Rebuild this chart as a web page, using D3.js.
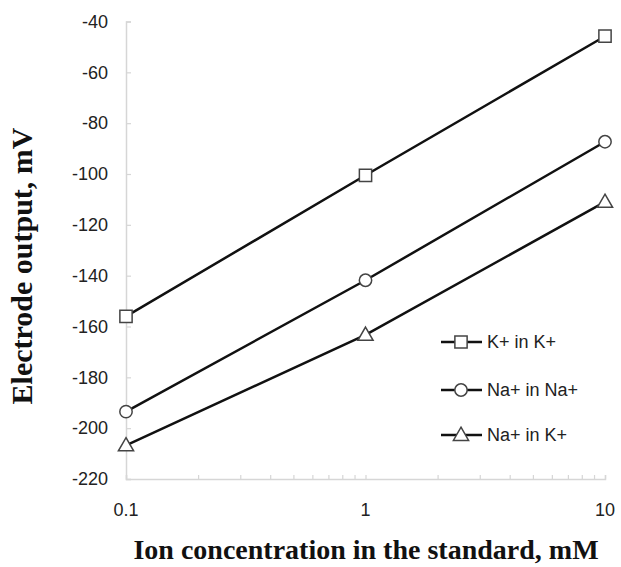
<!DOCTYPE html>
<html>
<head>
<meta charset="utf-8">
<script src="https://cdn.jsdelivr.net/npm/d3@7"></script>
<style>
  body { margin: 0; background: #fff; }
  svg { display: block; }
</style>
</head>
<body>
<svg id="chart" width="621" height="567"></svg>
<script>
// data
const conc = [0.1, 1, 10];
const kInK = [-156, -100.5, -45.8];
const naInNa = [-193.5, -141.8, -87.3];
const naInK = [-206.8, -163.3, -111];
const seriesNames = ["K+ in K+", "Na+ in Na+", "Na+ in K+"];
const seriesSymbols = ["square", "circle", "triangle"];
const yTicks = [-40, -60, -80, -100, -120, -140, -160, -180, -200, -220];
const xTicks = [0.1, 1, 10];

const series = [kInK, naInNa, naInK].map((vals, i) => ({
  name: seriesNames[i],
  sym: seriesSymbols[i],
  pts: vals.map((v, j) => ({ x: conc[j], y: v }))
}));

const svg = d3.select("#chart");
const axisColor = "#d6d6d6";

const x = d3.scaleLog().domain([0.1, 10]).range([126, 605]);
const y = d3.scaleLinear().domain([-220, -40]).range([479, 21.5]);

// y axis
const yAxis = svg.append("g").attr("transform", "translate(126,0)")
  .call(d3.axisRight(y).tickValues(yTicks).tickSize(5).tickFormat(""));
yAxis.select(".domain").attr("stroke", axisColor).attr("stroke-width", 1.5);
yAxis.selectAll(".tick line").attr("stroke", axisColor).attr("stroke-width", 1.2);

svg.append("g").selectAll("text")
  .data(yTicks)
  .join("text")
  .attr("x", 108)
  .attr("y", d => y(d))
  .attr("dy", "0.35em")
  .attr("text-anchor", "end")
  .attr("font-family", "Liberation Sans, Arial, sans-serif")
  .attr("font-size", 18)
  .attr("fill", "#222")
  .text(d => d);

// x axis, log ticks pointing up
const minor = [];
[0.1, 1].forEach(dec => { for (let k = 2; k <= 9; k++) minor.push(dec * k); });
const xAxis = svg.append("g").attr("transform", "translate(0,479)")
  .call(d3.axisTop(x).tickValues(minor.concat(xTicks)).tickSize(4).tickFormat(""));
xAxis.select(".domain").attr("stroke", axisColor).attr("stroke-width", 1.5);
xAxis.selectAll(".tick line").attr("stroke", axisColor).attr("stroke-width", 1.2);

svg.append("g").selectAll("text")
  .data(xTicks)
  .join("text")
  .attr("x", d => x(d))
  .attr("y", 510)
  .attr("dy", "0.35em")
  .attr("text-anchor", "middle")
  .attr("font-family", "Liberation Sans, Arial, sans-serif")
  .attr("font-size", 18)
  .attr("fill", "#222")
  .text(d => d);

// axis titles
svg.append("text")
  .attr("x", 366).attr("y", 559)
  .attr("text-anchor", "middle")
  .attr("font-family", "Liberation Serif, Times New Roman, serif")
  .attr("font-weight", "bold").attr("font-size", 28)
  .attr("fill", "#111")
  .text("Ion concentration in the standard, mM");

svg.append("text")
  .attr("transform", "translate(32,266) rotate(-90)")
  .attr("text-anchor", "middle")
  .attr("font-family", "Liberation Serif, Times New Roman, serif")
  .attr("font-weight", "bold").attr("font-size", 30)
  .attr("fill", "#111")
  .text("Electrode output, mV");

// lines
const line = d3.line().x(d => x(d.x)).y(d => y(d.y));
svg.append("g").selectAll("path")
  .data(series)
  .join("path")
  .attr("d", d => line(d.pts))
  .attr("fill", "none")
  .attr("stroke", "#111")
  .attr("stroke-width", 2.5);

const symType = { square: d3.symbolSquare, circle: d3.symbolCircle, triangle: d3.symbolTriangle };
const symSize = { square: 150, circle: 120, triangle: 100 };
function drawMarker(g, sym, cx, cy) {
  g.append("path")
    .attr("d", d3.symbol().type(symType[sym]).size(symSize[sym])())
    .attr("transform", `translate(${cx},${cy + (sym === "triangle" ? 1 : 0)})`)
    .attr("fill", "#fff")
    .attr("stroke", "#444")
    .attr("stroke-width", 1.5);
}

const marks = svg.append("g");
series.forEach(s => s.pts.forEach(p => drawMarker(marks, s.sym, x(p.x), y(p.y))));

// legend
const legY = [342, 390, 435];
const leg = svg.append("g");
series.forEach((s, i) => {
  leg.append("line")
    .attr("x1", 441).attr("x2", 482)
    .attr("y1", legY[i]).attr("y2", legY[i])
    .attr("stroke", "#111").attr("stroke-width", 2.5);
  drawMarker(leg, s.sym, 461, legY[i]);
  leg.append("text")
    .attr("x", 487).attr("y", legY[i]).attr("dy", "0.35em")
    .attr("font-family", "Liberation Sans, Arial, sans-serif")
    .attr("font-size", 18)
    .attr("fill", "#222")
    .text(s.name);
});
</script>
</body>
</html>
